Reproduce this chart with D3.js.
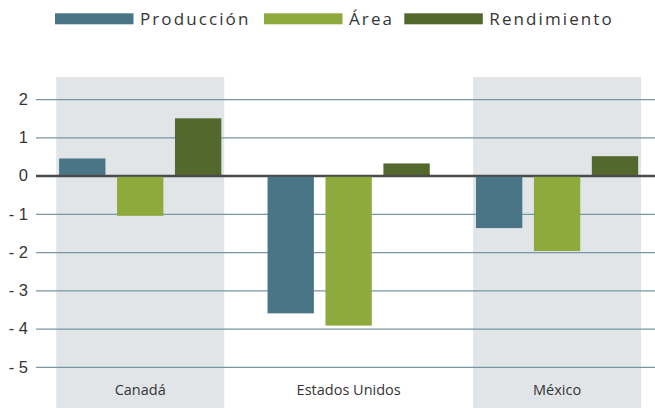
<!DOCTYPE html>
<html>
<head>
<meta charset="utf-8">
<script src="https://cdn.jsdelivr.net/npm/d3@7"></script>
<style>
  html, body { margin: 0; padding: 0; background: #fff; }
  svg { display: block; font-family: "Open Sans", "Noto Sans", sans-serif; }
</style>
</head>
<body>
<svg id="chart" width="655" height="408"></svg>
<script>
// Countries, series and values (percentage change)
const categories = ["Canadá", "Estados Unidos", "México"];
const seriesNames = ["Producción", "Área", "Rendimiento"];
const produccion = [0.45, -3.6, -1.37];
const area = [-1.05, -3.92, -1.97];
const rendimiento = [1.5, 0.32, 0.51];
const yTicks = [2, 1, 0, -1, -2, -3, -4, -5];
const colors = ["#4a7587", "#8ea93c", "#53682d"];
const shadedCategories = ["Canadá", "México"];

const seriesValues = [produccion, area, rendimiento];
const rows = categories.map((c, i) => ({
  category: c,
  values: seriesNames.map((s, j) => ({ series: s, value: seriesValues[j][i], color: colors[j] }))
}));

const svg = d3.select("#chart");
const W = 655, H = 408;
const plotLeft = 36, plotRight = 661.3;
const textColor = "#353535";

const x0 = d3.scaleBand()
  .domain(categories)
  .range([plotLeft, plotRight])
  .paddingInner(0.194)
  .paddingOuter(0.097);

const x1 = d3.scaleBand()
  .domain(seriesNames)
  .range([0, x0.bandwidth()])
  .paddingInner(0.2)
  .paddingOuter(0.05);

const y = d3.scaleLinear().domain([-5, 2]).range([366.9, 99.2]);

// Shaded country bands
svg.append("g").selectAll("rect")
  .data(shadedCategories)
  .join("rect")
  .attr("x", d => x0(d))
  .attr("y", 77)
  .attr("width", x0.bandwidth())
  .attr("height", H - 77)
  .attr("fill", "#e1e5e8");

// Horizontal gridlines and tick labels
const yAxis = d3.axisLeft(y)
  .tickValues(yTicks)
  .tickSize(-(W - plotLeft))
  .tickPadding(8)
  .tickFormat(d => d < 0 ? "- " + Math.abs(d) : String(d));

const gAxis = svg.append("g")
  .attr("transform", `translate(${plotLeft},0)`)
  .call(yAxis);
gAxis.select(".domain").remove();
gAxis.selectAll(".tick line")
  .attr("stroke", d => d === 0 ? "#4a4a4a" : "#7895a3")
  .attr("stroke-width", d => d === 0 ? 2 : 1.3);
gAxis.selectAll(".tick text")
  .attr("fill", textColor)
  .attr("font-size", 16.5)
  .attr("x", -8);

// Bars
const groups = svg.append("g").selectAll("g")
  .data(rows)
  .join("g")
  .attr("transform", d => `translate(${x0(d.category)},0)`);

groups.selectAll("rect")
  .data(d => d.values)
  .join("rect")
  .attr("x", d => x1(d.series))
  .attr("y", d => y(Math.max(0, d.value)))
  .attr("width", x1.bandwidth())
  .attr("height", d => Math.abs(y(d.value) - y(0)))
  .attr("fill", d => d.color);

// Zero line drawn above the bars
svg.append("line")
  .attr("x1", plotLeft).attr("x2", W)
  .attr("y1", y(0)).attr("y2", y(0))
  .attr("stroke", "#4a4a4a")
  .attr("stroke-width", 2);

// Category labels
svg.append("g").selectAll("text")
  .data(categories)
  .join("text")
  .attr("x", d => x0(d) + x0.bandwidth() / 2)
  .attr("y", 395)
  .attr("text-anchor", "middle")
  .attr("font-size", 14.5)
  .attr("fill", textColor)
  .text(d => d);

// Legend
const legendItems = [
  { name: seriesNames[0], color: colors[0], sx: 55 },
  { name: seriesNames[1], color: colors[1], sx: 264 },
  { name: seriesNames[2], color: colors[2], sx: 404.3 }
];
const legend = svg.append("g").selectAll("g")
  .data(legendItems)
  .join("g");
legend.append("rect")
  .attr("x", d => d.sx)
  .attr("y", 13.3)
  .attr("width", 78.5)
  .attr("height", 11)
  .attr("fill", d => d.color);
legend.append("text")
  .attr("x", d => d.sx + 85)
  .attr("y", 24.7)
  .attr("font-size", 17)
  .attr("font-weight", 500)
  .attr("letter-spacing", 2.1)
  .attr("fill", textColor)
  .text(d => d.name);
</script>
</body>
</html>
